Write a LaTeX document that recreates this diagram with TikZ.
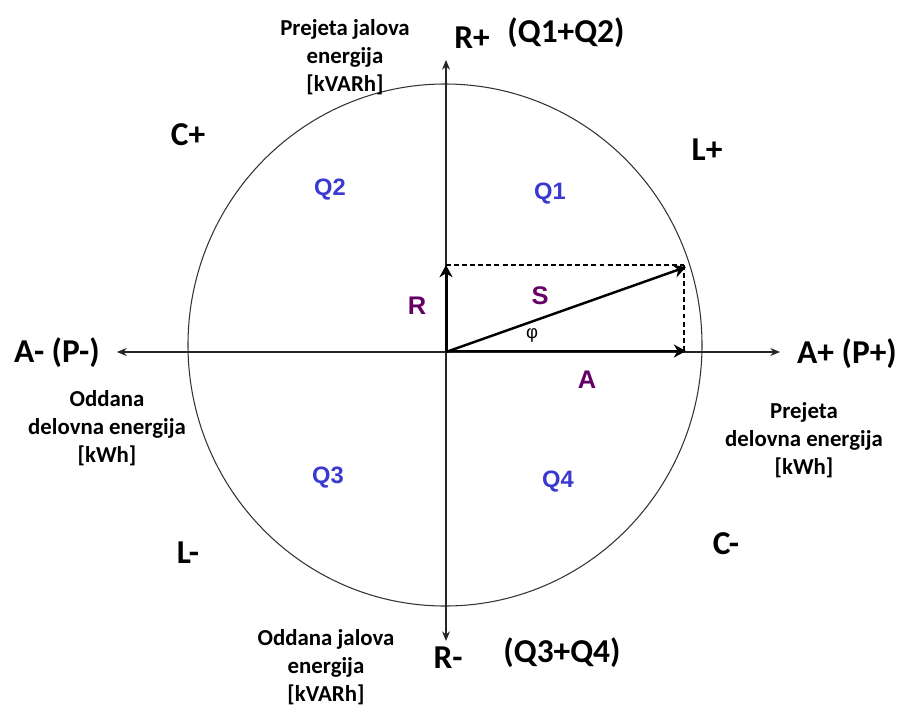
\documentclass[tikz,border=0pt]{standalone}
\usepackage{fontspec}
\setmainfont{Carlito}
\newfontfamily\arialf{Liberation Sans}
\usetikzlibrary{arrows.meta}
\definecolor{qblue}{RGB}{58,58,208}
\definecolor{vpurple}{RGB}{102,0,102}

\begin{document}
\begin{tikzpicture}[>=Stealth,x=0.02cm,y=-0.02cm,
 axis/.style={->,line width=0.6pt,black!85,>={Stealth[length=5.5pt,width=4.5pt]}},
 vec/.style={->,black,>={Stealth[length=7pt,width=7.5pt]}},
 proj/.style={dashed,line width=0.7pt,dash pattern=on 2.8pt off 1.8pt},
 big/.style={font=\bfseries\fontsize{19}{22}\selectfont,inner sep=0pt,anchor=base},
 desc/.style={font=\bfseries\fontsize{13}{15.8}\selectfont,align=center,inner sep=0pt},
 quad/.style={font=\arialf\bfseries\fontsize{13.5}{15}\selectfont,text=qblue,inner sep=0pt},
 comp/.style={font=\arialf\bfseries\fontsize{14.5}{16}\selectfont,text=vpurple,inner sep=0pt}]
\useasboundingbox[fill=white] (0,0) rectangle (902,707);
\coordinate (O) at (446,352);
\coordinate (top) at (446,60);
\coordinate (bot) at (446,641);
\coordinate (lft) at (117,352);
\coordinate (rgt) at (780,352);
\coordinate (rtip) at (446,265);
\coordinate (stip) at (686,267);
\coordinate (atip) at (686,351);
\coordinate (corner) at (684,265);
\draw[line width=0.6pt,black!80] (445,345) ellipse[x radius=257,y radius=261];
\draw[axis] (O) -- (top);
\draw[axis] (O) -- (bot);
\draw[axis] (O) -- (lft);
\draw[axis] (O) -- (rgt);
\draw[proj] (rtip) -- (corner);
\draw[proj] (corner) -- (684,352);
\draw[vec,line width=1.7pt] (O) -- (rtip);
\draw[vec,line width=1.4pt] (O) -- (stip);
\draw[vec,line width=1.1pt] (446,351) -- (atip);
\node[quad] (q1) at (550,194) {Q1};
\node[quad] (q2) at (330,190) {Q2};
\node[quad] (q3) at (328,478) {Q3};
\node[quad] (q4) at (558,482) {Q4};
\node[comp] (rl) at (417,306) {R};
\node[comp] (sl) at (540,296) {S};
\node[comp] (al) at (587,380) {A};
\node[font=\arialf\fontsize{10.5}{11}\selectfont,inner sep=0pt] (phi) at (532,335) {φ};
\node[big] (rplus) at (472,48) {R+};
\node[big] (q12) at (566,42) {(Q1+Q2)};
\node[big] (rminus) at (448,668) {R-};
\node[big] (q34) at (562,662) {(Q3+Q4)};
\node[big] (aminus) at (57,362) {A- (P-)};
\node[big] (aplus) at (847,363) {A+ (P+)};
\node[big] (cplus) at (188,145) {C+};
\node[big] (lplus) at (707,160) {L+};
\node[big] (lminus) at (188,563) {L-};
\node[big] (cminus) at (726,554) {C-};
\node[desc] (rin) at (345,57) {Prejeta jalova\\energija\\{[kVARh]}};
\node[desc] (pout) at (107,428) {Oddana\\delovna energija\\{[kWh]}};
\node[desc] (pin) at (804,440) {Prejeta\\delovna energija\\{[kWh]}};
\node[desc] (rout) at (326,667) {Oddana jalova\\energija\\{[kVARh]}};
\end{tikzpicture}
\end{document}
